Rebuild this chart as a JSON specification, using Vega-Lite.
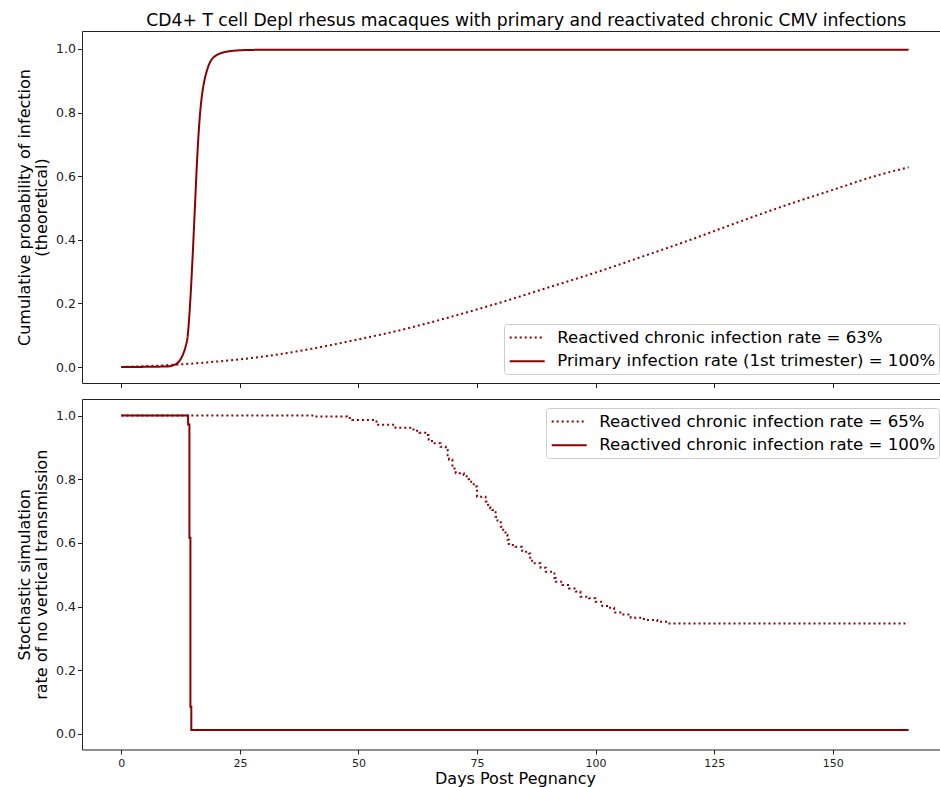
{
  "$schema": "https://vega.github.io/schema/vega-lite/v6.json",
  "background": "white",
  "padding": {"left": 16, "top": 11, "right": 0, "bottom": 5},
  "spacing": 16,
  "bounds": "flush",
  "title": {
    "text": "CD4+ T cell Depl rhesus macaques with primary and reactivated chronic CMV infections",
    "font": "DejaVu Sans",
    "fontSize": 17.2,
    "fontWeight": "normal",
    "color": "#000000",
    "anchor": "middle",
    "dx": 44,
    "offset": 1.5
  },
  "datasets": {
    "theory": [
      {"series": "Reactived chronic infection rate = 63%", "day": 0, "value": 0.0},
      {"series": "Reactived chronic infection rate = 63%", "day": 10, "value": 0.006},
      {"series": "Reactived chronic infection rate = 63%", "day": 20, "value": 0.017},
      {"series": "Reactived chronic infection rate = 63%", "day": 30, "value": 0.033},
      {"series": "Reactived chronic infection rate = 63%", "day": 40, "value": 0.057},
      {"series": "Reactived chronic infection rate = 63%", "day": 50, "value": 0.087},
      {"series": "Reactived chronic infection rate = 63%", "day": 60, "value": 0.12},
      {"series": "Reactived chronic infection rate = 63%", "day": 70, "value": 0.16},
      {"series": "Reactived chronic infection rate = 63%", "day": 80, "value": 0.203},
      {"series": "Reactived chronic infection rate = 63%", "day": 90, "value": 0.25},
      {"series": "Reactived chronic infection rate = 63%", "day": 100, "value": 0.297},
      {"series": "Reactived chronic infection rate = 63%", "day": 110, "value": 0.348},
      {"series": "Reactived chronic infection rate = 63%", "day": 120, "value": 0.4},
      {"series": "Reactived chronic infection rate = 63%", "day": 130, "value": 0.455},
      {"series": "Reactived chronic infection rate = 63%", "day": 140, "value": 0.508},
      {"series": "Reactived chronic infection rate = 63%", "day": 150, "value": 0.557},
      {"series": "Reactived chronic infection rate = 63%", "day": 160, "value": 0.605},
      {"series": "Reactived chronic infection rate = 63%", "day": 166, "value": 0.628},
      {"series": "Primary infection rate (1st trimester) = 100%", "day": 0, "value": 0.0},
      {"series": "Primary infection rate (1st trimester) = 100%", "day": 5, "value": 0.0005},
      {"series": "Primary infection rate (1st trimester) = 100%", "day": 10, "value": 0.002},
      {"series": "Primary infection rate (1st trimester) = 100%", "day": 11, "value": 0.006},
      {"series": "Primary infection rate (1st trimester) = 100%", "day": 12, "value": 0.015},
      {"series": "Primary infection rate (1st trimester) = 100%", "day": 12.5, "value": 0.025},
      {"series": "Primary infection rate (1st trimester) = 100%", "day": 13, "value": 0.04},
      {"series": "Primary infection rate (1st trimester) = 100%", "day": 13.5, "value": 0.062},
      {"series": "Primary infection rate (1st trimester) = 100%", "day": 14, "value": 0.1},
      {"series": "Primary infection rate (1st trimester) = 100%", "day": 14.5, "value": 0.2},
      {"series": "Primary infection rate (1st trimester) = 100%", "day": 15, "value": 0.34},
      {"series": "Primary infection rate (1st trimester) = 100%", "day": 15.5, "value": 0.5},
      {"series": "Primary infection rate (1st trimester) = 100%", "day": 16, "value": 0.66},
      {"series": "Primary infection rate (1st trimester) = 100%", "day": 16.5, "value": 0.78},
      {"series": "Primary infection rate (1st trimester) = 100%", "day": 17, "value": 0.855},
      {"series": "Primary infection rate (1st trimester) = 100%", "day": 17.5, "value": 0.9},
      {"series": "Primary infection rate (1st trimester) = 100%", "day": 18, "value": 0.93},
      {"series": "Primary infection rate (1st trimester) = 100%", "day": 18.5, "value": 0.952},
      {"series": "Primary infection rate (1st trimester) = 100%", "day": 19, "value": 0.966},
      {"series": "Primary infection rate (1st trimester) = 100%", "day": 20, "value": 0.98},
      {"series": "Primary infection rate (1st trimester) = 100%", "day": 21, "value": 0.987},
      {"series": "Primary infection rate (1st trimester) = 100%", "day": 22, "value": 0.991},
      {"series": "Primary infection rate (1st trimester) = 100%", "day": 24, "value": 0.995},
      {"series": "Primary infection rate (1st trimester) = 100%", "day": 27, "value": 0.997},
      {"series": "Primary infection rate (1st trimester) = 100%", "day": 35, "value": 0.998},
      {"series": "Primary infection rate (1st trimester) = 100%", "day": 166, "value": 0.998}
    ],
    "simulation": [
      {"series": "Reactived chronic infection rate = 65%", "day": 0, "value": 1.0},
      {"series": "Reactived chronic infection rate = 65%", "day": 40.6, "value": 0.997},
      {"series": "Reactived chronic infection rate = 65%", "day": 47.6, "value": 0.992},
      {"series": "Reactived chronic infection rate = 65%", "day": 48.7, "value": 0.986},
      {"series": "Reactived chronic infection rate = 65%", "day": 53.8, "value": 0.971},
      {"series": "Reactived chronic infection rate = 65%", "day": 57.8, "value": 0.962},
      {"series": "Reactived chronic infection rate = 65%", "day": 61.6, "value": 0.952},
      {"series": "Reactived chronic infection rate = 65%", "day": 62.8, "value": 0.946},
      {"series": "Reactived chronic infection rate = 65%", "day": 64.1, "value": 0.939},
      {"series": "Reactived chronic infection rate = 65%", "day": 64.8, "value": 0.925},
      {"series": "Reactived chronic infection rate = 65%", "day": 65.5, "value": 0.913},
      {"series": "Reactived chronic infection rate = 65%", "day": 67.3, "value": 0.902},
      {"series": "Reactived chronic infection rate = 65%", "day": 68.4, "value": 0.892},
      {"series": "Reactived chronic infection rate = 65%", "day": 68.8, "value": 0.875},
      {"series": "Reactived chronic infection rate = 65%", "day": 69.1, "value": 0.861},
      {"series": "Reactived chronic infection rate = 65%", "day": 69.8, "value": 0.834},
      {"series": "Reactived chronic infection rate = 65%", "day": 70.5, "value": 0.819},
      {"series": "Reactived chronic infection rate = 65%", "day": 72.2, "value": 0.813},
      {"series": "Reactived chronic infection rate = 65%", "day": 72.8, "value": 0.8},
      {"series": "Reactived chronic infection rate = 65%", "day": 73.3, "value": 0.792},
      {"series": "Reactived chronic infection rate = 65%", "day": 74.3, "value": 0.777},
      {"series": "Reactived chronic infection rate = 65%", "day": 75.0, "value": 0.745},
      {"series": "Reactived chronic infection rate = 65%", "day": 76.8, "value": 0.73},
      {"series": "Reactived chronic infection rate = 65%", "day": 77.3, "value": 0.72},
      {"series": "Reactived chronic infection rate = 65%", "day": 77.8, "value": 0.708},
      {"series": "Reactived chronic infection rate = 65%", "day": 78.2, "value": 0.703},
      {"series": "Reactived chronic infection rate = 65%", "day": 78.9, "value": 0.682},
      {"series": "Reactived chronic infection rate = 65%", "day": 79.3, "value": 0.67},
      {"series": "Reactived chronic infection rate = 65%", "day": 80.0, "value": 0.651},
      {"series": "Reactived chronic infection rate = 65%", "day": 80.5, "value": 0.638},
      {"series": "Reactived chronic infection rate = 65%", "day": 81.0, "value": 0.625},
      {"series": "Reactived chronic infection rate = 65%", "day": 81.4, "value": 0.61},
      {"series": "Reactived chronic infection rate = 65%", "day": 81.7, "value": 0.593},
      {"series": "Reactived chronic infection rate = 65%", "day": 83.1, "value": 0.588},
      {"series": "Reactived chronic infection rate = 65%", "day": 84.5, "value": 0.572},
      {"series": "Reactived chronic infection rate = 65%", "day": 85.9, "value": 0.567},
      {"series": "Reactived chronic infection rate = 65%", "day": 86.2, "value": 0.55},
      {"series": "Reactived chronic infection rate = 65%", "day": 86.6, "value": 0.536},
      {"series": "Reactived chronic infection rate = 65%", "day": 88.4, "value": 0.522},
      {"series": "Reactived chronic infection rate = 65%", "day": 89.5, "value": 0.509},
      {"series": "Reactived chronic infection rate = 65%", "day": 90.9, "value": 0.504},
      {"series": "Reactived chronic infection rate = 65%", "day": 91.3, "value": 0.49},
      {"series": "Reactived chronic infection rate = 65%", "day": 91.6, "value": 0.478},
      {"series": "Reactived chronic infection rate = 65%", "day": 93.0, "value": 0.468},
      {"series": "Reactived chronic infection rate = 65%", "day": 94.4, "value": 0.457},
      {"series": "Reactived chronic infection rate = 65%", "day": 95.8, "value": 0.447},
      {"series": "Reactived chronic infection rate = 65%", "day": 96.8, "value": 0.431},
      {"series": "Reactived chronic infection rate = 65%", "day": 98.6, "value": 0.426},
      {"series": "Reactived chronic infection rate = 65%", "day": 100.0, "value": 0.415},
      {"series": "Reactived chronic infection rate = 65%", "day": 101.4, "value": 0.402},
      {"series": "Reactived chronic infection rate = 65%", "day": 102.8, "value": 0.396},
      {"series": "Reactived chronic infection rate = 65%", "day": 103.9, "value": 0.381},
      {"series": "Reactived chronic infection rate = 65%", "day": 105.6, "value": 0.375},
      {"series": "Reactived chronic infection rate = 65%", "day": 107.4, "value": 0.365},
      {"series": "Reactived chronic infection rate = 65%", "day": 110.2, "value": 0.358},
      {"series": "Reactived chronic infection rate = 65%", "day": 113.0, "value": 0.352},
      {"series": "Reactived chronic infection rate = 65%", "day": 115.1, "value": 0.347},
      {"series": "Reactived chronic infection rate = 65%", "day": 166, "value": 0.347},
      {"series": "Reactived chronic infection rate = 100%", "day": 0, "value": 1.0},
      {"series": "Reactived chronic infection rate = 100%", "day": 14.07, "value": 0.972},
      {"series": "Reactived chronic infection rate = 100%", "day": 14.35, "value": 0.616},
      {"series": "Reactived chronic infection rate = 100%", "day": 14.56, "value": 0.085},
      {"series": "Reactived chronic infection rate = 100%", "day": 14.75, "value": 0.012},
      {"series": "Reactived chronic infection rate = 100%", "day": 166, "value": 0.012}
    ]
  },
  "vconcat": [
    {
      "width": 866,
      "height": 352,
      "data": {"name": "theory"},
      "mark": {"type": "line", "interpolate": "monotone", "color": "#8b0000", "strokeWidth": 2},
      "encoding": {
        "x": {
          "field": "day", "type": "quantitative",
          "scale": {"domain": [-8.3, 174.3], "nice": false, "zero": false},
          "axis": {"labels": false, "title": null, "values": [0, 25, 50, 75, 100, 125, 150]}
        },
        "y": {
          "field": "value", "type": "quantitative",
          "scale": {"domain": [-0.0503, 1.0566], "nice": false, "zero": false},
          "axis": {
            "title": ["Cumulative probability of infection", "(theoretical)"],
            "values": [0, 0.2, 0.4, 0.6, 0.8, 1.0], "format": ".1f"
          }
        },
        "strokeDash": {
          "field": "series", "type": "nominal", "sort": null,
          "scale": {
            "domain": ["Reactived chronic infection rate = 63%", "Primary infection rate (1st trimester) = 100%"],
            "range": [[2, 3], [1, 0]]
          },
          "legend": {"orient": "bottom-right"}
        },
        "order": {"field": "day", "type": "quantitative"}
      }
    },
    {
      "width": 866,
      "height": 350.5,
      "data": {"name": "simulation"},
      "mark": {"type": "line", "interpolate": "step-after", "color": "#8b0000", "strokeWidth": 2},
      "encoding": {
        "x": {
          "field": "day", "type": "quantitative",
          "scale": {"domain": [-8.3, 174.3], "nice": false, "zero": false},
          "axis": {"title": "Days Post Pegnancy", "values": [0, 25, 50, 75, 100, 125, 150]}
        },
        "y": {
          "field": "value", "type": "quantitative",
          "scale": {"domain": [-0.049, 1.052], "nice": false, "zero": false},
          "axis": {
            "title": ["Stochastic simulation", "rate of no vertical transmission"],
            "values": [0, 0.2, 0.4, 0.6, 0.8, 1.0], "format": ".1f"
          }
        },
        "strokeDash": {
          "field": "series", "type": "nominal", "sort": null,
          "scale": {
            "domain": ["Reactived chronic infection rate = 65%", "Reactived chronic infection rate = 100%"],
            "range": [[2, 3], [1, 0]]
          },
          "legend": {"orient": "top-right"}
        },
        "order": {"field": "day", "type": "quantitative"}
      }
    }
  ],
  "resolve": {
    "scale": {"strokeDash": "independent", "x": "independent", "y": "independent"},
    "legend": {"strokeDash": "independent"}
  },
  "config": {
    "font": "DejaVu Sans",
    "view": {"stroke": "#222222", "strokeWidth": 1},
    "axis": {
      "domain": false,
      "grid": false,
      "tickColor": "#222222",
      "tickSize": 4.5,
      "tickWidth": 1,
      "labelFont": "DejaVu Sans",
      "labelFontSize": 12.5,
      "labelColor": "#222222",
      "labelPadding": 2,
      "titleFont": "DejaVu Sans",
      "titleFontSize": 16,
      "titleFontWeight": "normal",
      "titleColor": "#000000",
      "titleLineHeight": 17,
      "titlePadding": 6
    },
    "axisX": {"labelFontSize": 11, "labelPadding": 3, "titlePadding": 2},
    "legend": {
      "title": null,
      "offset": 9,
      "padding": 3.5,
      "fillColor": "white",
      "strokeColor": "#cccccc",
      "cornerRadius": 3,
      "labelFont": "DejaVu Sans",
      "labelFontSize": 16.6,
      "labelColor": "#000000",
      "labelOffset": 20,
      "labelLimit": 600,
      "rowPadding": 4.8,
      "symbolType": "M-2,0H2",
      "symbolSize": 306,
      "symbolOffset": 9.7,
      "symbolStrokeWidth": 2,
      "symbolStrokeColor": "#8b0000"
    }
  }
}
